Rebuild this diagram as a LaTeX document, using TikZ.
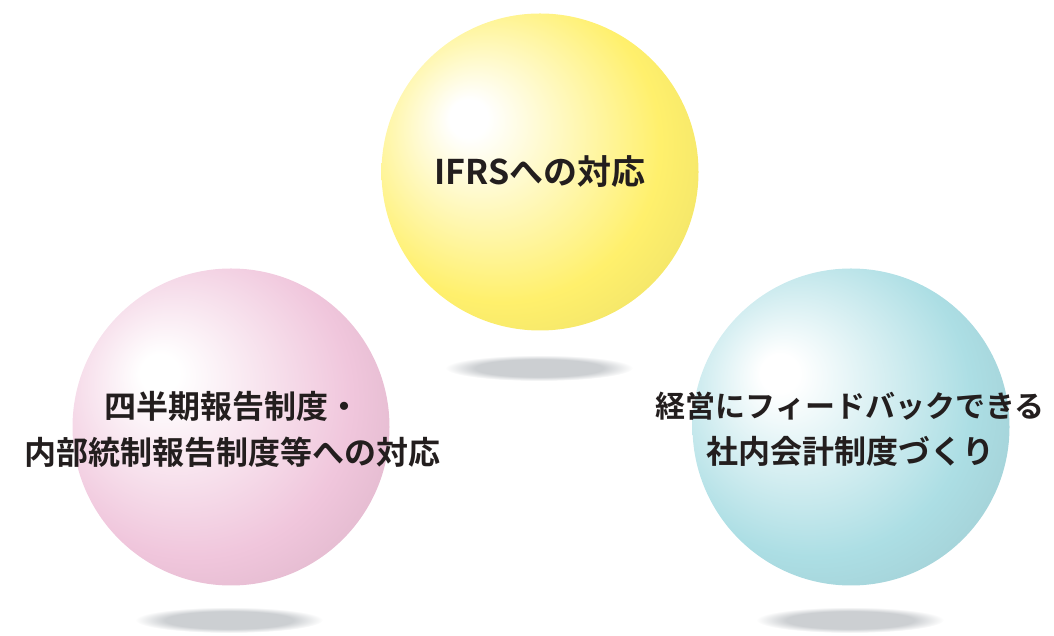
\documentclass[tikz,border=0pt]{standalone}
\usepackage{fontspec}
\newfontfamily\jpfont{Noto Sans CJK JP Bold}
\usetikzlibrary{shapes.geometric}

\definecolor{ylmid}{RGB}{255,240,108}
\definecolor{yledge}{RGB}{233,221,104}
\definecolor{pkmid}{RGB}{240,198,220}
\definecolor{pkedge}{RGB}{218,178,198}
\definecolor{blmid}{RGB}{172,222,228}
\definecolor{bledge}{RGB}{158,200,206}
\definecolor{shgray}{RGB}{204,207,210}
\definecolor{txt}{RGB}{35,30,30}

\pgfdeclareradialshading{yellowball}{\pgfpoint{-12bp}{9bp}}{color(0bp)=(white); color(3bp)=(white); color(25bp)=(ylmid); color(38bp)=(yledge); color(50bp)=(yledge)}
\pgfdeclareradialshading{pinkball}{\pgfpoint{-12bp}{9bp}}{color(0bp)=(white); color(3bp)=(white); color(25bp)=(pkmid); color(38bp)=(pkedge); color(50bp)=(pkedge)}
\pgfdeclareradialshading{blueball}{\pgfpoint{-12bp}{9bp}}{color(0bp)=(white); color(3bp)=(white); color(25bp)=(blmid); color(38bp)=(bledge); color(50bp)=(bledge)}
\pgfdeclareradialshading{floorshadow}{\pgfpoint{0bp}{0bp}}{color(0bp)=(shgray); color(17bp)=(shgray); color(25bp)=(white); color(50bp)=(white)}

\tikzstyle{ball} = [circle, minimum size=317pt, inner sep=0pt, align=center, text=txt, font=\jpfont\fontsize{34}{46}\selectfont]
\tikzstyle{balltext} = [align=center, text=txt, font=\jpfont\fontsize{32}{46}\selectfont]
\tikzstyle{shadow} = [ellipse, minimum width=188pt, minimum height=26pt, inner sep=0pt, shading=floorshadow]

\begin{document}
\begin{tikzpicture}[x=1pt, y=1pt]
        \useasboundingbox (0,0) rectangle (1054,636);

        \node (ifrsshadow)   [shadow] at (539,268) {};
        \node (quartshadow)  [shadow] at (229,16) {};
        \node (mgmtshadow)   [shadow] at (850,16) {};

        \node (ifrs)  [ball, shading=yellowball] at (540,464) {IFRSへの対応};
        \node (quart) [ball, shading=pinkball] at (231,209) {};
        \node (mgmt)  [ball, shading=blueball] at (851,209) {};

        \node (quarttext) [balltext] at (232,207) {四半期報告制度・\\内部統制報告制度等への対応};
        \node (mgmttext)  [balltext] at (850,207) {{\fontsize{30}{46}\selectfont 経営にフィードバックできる}\\社内会計制度づくり};
    \end{tikzpicture}
\end{document}
